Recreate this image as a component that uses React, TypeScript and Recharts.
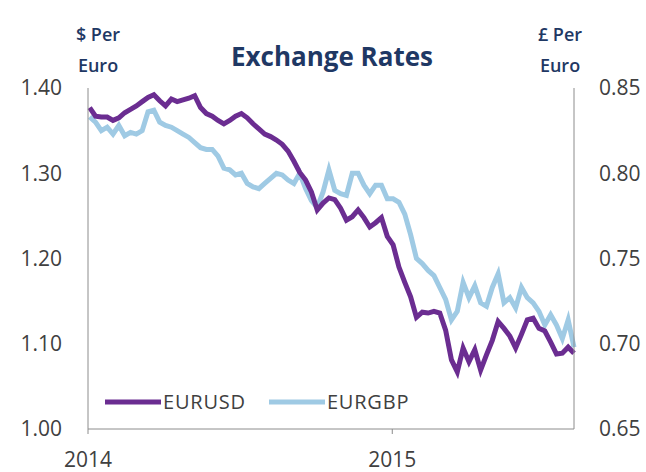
import { LineChart, Line, XAxis, YAxis } from "recharts";

const dates = [
  "2014-01-03", "2014-01-10", "2014-01-17", "2014-01-24", "2014-01-31",
  "2014-02-07", "2014-02-14", "2014-02-21", "2014-02-28",
  "2014-03-07", "2014-03-14", "2014-03-21", "2014-03-28",
  "2014-04-04", "2014-04-11", "2014-04-18", "2014-04-25",
  "2014-05-02", "2014-05-09", "2014-05-16", "2014-05-23", "2014-05-30",
  "2014-06-06", "2014-06-13", "2014-06-20", "2014-06-27",
  "2014-07-04", "2014-07-11", "2014-07-18", "2014-07-25",
  "2014-08-01", "2014-08-08", "2014-08-15", "2014-08-22", "2014-08-29",
  "2014-09-05", "2014-09-12", "2014-09-19", "2014-09-26",
  "2014-10-03", "2014-10-10", "2014-10-17", "2014-10-24", "2014-10-31",
  "2014-11-07", "2014-11-14", "2014-11-21", "2014-11-28",
  "2014-12-05", "2014-12-12", "2014-12-19", "2014-12-26",
  "2015-01-02", "2015-01-09", "2015-01-16", "2015-01-23", "2015-01-30",
  "2015-02-06", "2015-02-13", "2015-02-20", "2015-02-27",
  "2015-03-06", "2015-03-13", "2015-03-20", "2015-03-27",
  "2015-04-03", "2015-04-10", "2015-04-17", "2015-04-24",
  "2015-05-01", "2015-05-08", "2015-05-15", "2015-05-22", "2015-05-29",
  "2015-06-05", "2015-06-12", "2015-06-19", "2015-06-26",
  "2015-07-03", "2015-07-10", "2015-07-17", "2015-07-24", "2015-07-31",
  "2015-08-07",
];

// $ per euro
const eurusd = [
  1.377, 1.367, 1.366, 1.366, 1.362, 1.365, 1.371, 1.375, 1.379,
  1.384, 1.389, 1.392, 1.385, 1.379, 1.387, 1.384, 1.386,
  1.388, 1.391, 1.377, 1.370, 1.367, 1.362, 1.358, 1.362, 1.367,
  1.370, 1.365, 1.358, 1.352, 1.346, 1.343, 1.339, 1.334, 1.326,
  1.314, 1.301, 1.292, 1.278, 1.257, 1.265, 1.271, 1.269, 1.259,
  1.245, 1.249, 1.257, 1.248, 1.237, 1.242, 1.248, 1.226,
  1.216, 1.190, 1.172, 1.155, 1.131, 1.137, 1.136, 1.138, 1.136,
  1.116, 1.081, 1.067, 1.095, 1.079, 1.093, 1.069, 1.087,
  1.104, 1.126, 1.118, 1.109, 1.095, 1.111, 1.128, 1.130, 1.118,
  1.115, 1.102, 1.088, 1.089, 1.096, 1.089,
];

// £ per euro
const eurgbp = [
  0.833, 0.830, 0.825, 0.827, 0.823, 0.828, 0.822, 0.824, 0.823,
  0.825, 0.836, 0.837, 0.830, 0.828, 0.827, 0.825, 0.823,
  0.821, 0.818, 0.815, 0.814, 0.814, 0.810, 0.803, 0.802, 0.799,
  0.800, 0.794, 0.792, 0.791, 0.794, 0.797, 0.800, 0.799, 0.796,
  0.794, 0.800, 0.791, 0.784, 0.780, 0.789, 0.802, 0.790, 0.788,
  0.787, 0.800, 0.800, 0.793, 0.788, 0.793, 0.793, 0.785,
  0.785, 0.783, 0.776, 0.764, 0.750, 0.747, 0.743, 0.740, 0.733,
  0.726, 0.714, 0.719, 0.736, 0.727, 0.734, 0.724, 0.722,
  0.733, 0.741, 0.724, 0.727, 0.721, 0.733, 0.727, 0.724, 0.719,
  0.711, 0.717, 0.711, 0.703, 0.714, 0.698,
];

const usdTicks = [1.0, 1.1, 1.2, 1.3, 1.4];
const gbpTicks = [0.65, 0.7, 0.75, 0.8, 0.85];
const yearTicks = ["2014-01-01", "2015-01-01"];
const xEnd = "2015-08-07";

const PURPLE = "#6B2D91";
const LIGHT_BLUE = "#9FCAE4";
const AXIS_TEXT = "#404040";
const NAVY = "#1F3864";
const FONT = "'Open Sans', sans-serif";

const data = dates.map((d, i) => ({
  t: Date.parse(d),
  usd: eurusd[i],
  gbp: eurgbp[i],
}));

const legendItems = [
  { name: "EURUSD", color: PURPLE },
  { name: "EURGBP", color: LIGHT_BLUE },
];

const tickStyle = { fontSize: 21, fill: AXIS_TEXT, fontFamily: FONT };
const unitStyle: React.CSSProperties = {
  position: "absolute",
  fontFamily: FONT,
  fontWeight: 600,
  fontSize: 18,
  color: NAVY,
  textAlign: "center",
  lineHeight: "31px",
  width: 80,
};

export default function App() {
  return (
    <div style={{ position: "relative", width: 646, height: 472, background: "#fff" }}>
      <style>{`body{margin:0}`}</style>
      <div style={{ ...unitStyle, left: 58, top: 19 }}>
        $ Per
        <br />
        Euro
      </div>
      <div style={{ ...unitStyle, left: 520, top: 19 }}>
        £ Per
        <br />
        Euro
      </div>
      <div
        style={{
          position: "absolute",
          left: 0,
          width: 664,
          top: 38,
          textAlign: "center",
          fontFamily: FONT,
          fontWeight: 700,
          fontSize: 26,
          color: NAVY,
        }}
      >
        Exchange Rates
      </div>
      <div
        style={{
          position: "absolute",
          left: 105,
          top: 388,
          display: "flex",
          alignItems: "center",
          fontFamily: FONT,
          fontSize: 20,
          letterSpacing: 0.8,
          color: AXIS_TEXT,
          zIndex: 2,
        }}
      >
        {legendItems.map((it) => (
          <div key={it.name} style={{ display: "flex", alignItems: "center", marginRight: 23 }}>
            <svg width={56} height={8}>
              <line x1={0} x2={56} y1={4} y2={4} stroke={it.color} strokeWidth={5} />
            </svg>
            <span style={{ marginLeft: 2 }}>{it.name}</span>
          </div>
        ))}
      </div>
      <LineChart width={646} height={472} data={data} margin={{ top: 88, right: 0, bottom: 0, left: 0 }}>
        <XAxis
          dataKey="t"
          type="number"
          domain={[Date.parse(yearTicks[0]), Date.parse(xEnd)]}
          ticks={yearTicks.map((d) => Date.parse(d))}
          tickFormatter={(v: number) => String(new Date(v).getUTCFullYear())}
          height={43}
          stroke="#8c8c8c"
          tickSize={5}
          tickMargin={18}
          tick={tickStyle}
        />
        <YAxis
          yAxisId="usd"
          orientation="left"
          domain={[1.0, 1.4]}
          ticks={usdTicks}
          tickFormatter={(v: number) => v.toFixed(2)}
          width={88}
          stroke="#8c8c8c"
          tickLine={false}
          tickSize={0}
          tickMargin={26}
          tick={tickStyle}
        />
        <YAxis
          yAxisId="gbp"
          orientation="right"
          domain={[0.65, 0.85]}
          ticks={gbpTicks}
          tickFormatter={(v: number) => v.toFixed(2)}
          width={72}
          stroke="#8c8c8c"
          tickLine={false}
          tickSize={0}
          tickMargin={25}
          tick={tickStyle}
        />
        <Line
          yAxisId="gbp"
          dataKey="gbp"
          name="EURGBP"
          stroke={LIGHT_BLUE}
          strokeWidth={5}
          dot={false}
          isAnimationActive={false}
        />
        <Line
          yAxisId="usd"
          dataKey="usd"
          name="EURUSD"
          stroke={PURPLE}
          strokeWidth={5}
          dot={false}
          isAnimationActive={false}
        />
      </LineChart>
    </div>
  );
}
